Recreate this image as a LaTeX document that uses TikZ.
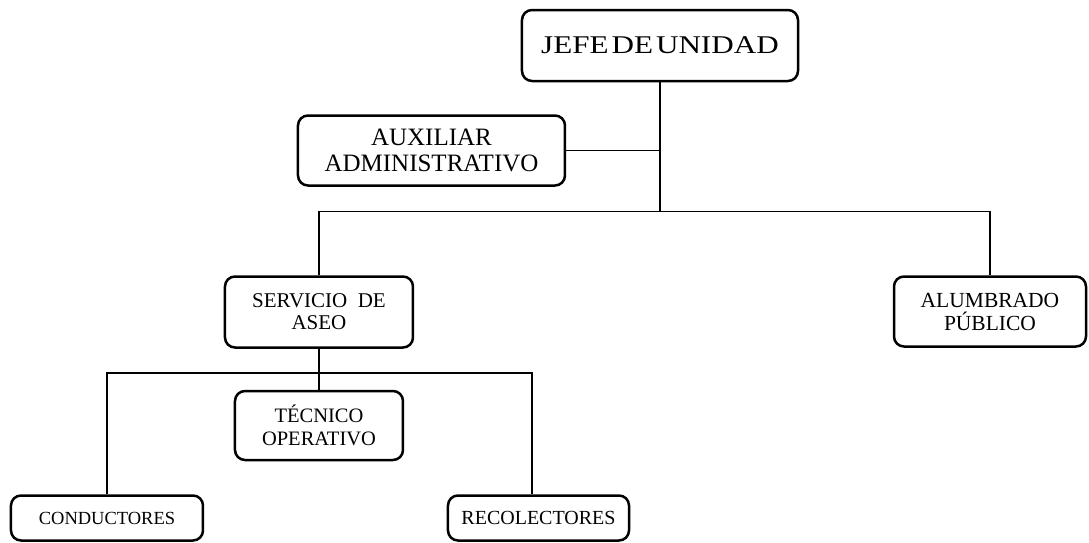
\documentclass[tikz,border=0pt]{standalone}
\usepackage{fontspec}
\setmainfont{Liberation Serif}
\newfontfamily\widefont{Liberation Serif}[FakeStretch=1.22]
\usetikzlibrary{positioning,calc}

\begin{document}
\begin{tikzpicture}[
  node distance=32pt and 10pt,
  unit/.style={draw, rounded corners=10pt, line width=2.5pt, align=center, inner sep=2pt},
  link/.style={line width=1.5pt}
]
\useasboundingbox (-660pt,45.5pt) rectangle (429pt,-496.5pt);

% ===== Head and staff =====
\node[unit, minimum width=276pt, minimum height=71pt,
      font=\widefont\fontsize{25.5}{30}\selectfont] (jefe) at (0,0) {JEFE\hspace{3pt}DE\hspace{3pt}UNIDAD};
\node[unit, below=32pt of jefe, xshift=-228.5pt, minimum width=267pt, minimum height=70pt,
      font=\fontsize{25}{26}\selectfont] (aux) {AUXILIAR\\ADMINISTRATIVO};

% ----- Second level -----
\node[unit, below=193pt of jefe, xshift=-341pt, minimum width=188pt, minimum height=71pt,
      font=\fontsize{21}{22}\selectfont] (aseo) {SERVICIO\ \ DE\\ASEO};
\node[unit, below=193pt of jefe, xshift=330pt, minimum width=192pt, minimum height=70pt,
      font=\fontsize{21.5}{23}\selectfont] (alum) {ALUMBRADO\\PÚBLICO};

% ----- Under the cleaning service -----
\node[unit, below=41pt of aseo, minimum width=168pt, minimum height=69pt,
      font=\fontsize{20.5}{22.5}\selectfont] (tec) {TÉCNICO\\OPERATIVO};
\node[unit, below=33pt of tec, xshift=-212pt, minimum width=192pt, minimum height=45pt,
      font=\fontsize{18.5}{20}\selectfont] (cond) {CONDUCTORES};
\node[unit, below=33pt of tec, xshift=219.5pt, minimum width=181pt, minimum height=45pt,
      font=\fontsize{20}{20}\selectfont] (reco) {RECOLECTORES};

% ===== Connectors =====
\coordinate (hubA) at ($(jefe.south)+(0,-129pt)$);
\coordinate (hubB) at ($(aseo.south)+(0,-24pt)$);
\coordinate (recoTop) at ($(reco.north)+(-6.5pt,0)$);

\draw[link] (jefe) -- (hubA);
\draw[link] (aux.east) -- (aux.east -| hubA);
\draw[link] (aseo.north) |- (hubA) -| (alum.north);

\draw[link] (aseo) -- (tec);
\draw[link] (cond.north) |- (hubB) -| (recoTop);
\end{tikzpicture}
\end{document}
